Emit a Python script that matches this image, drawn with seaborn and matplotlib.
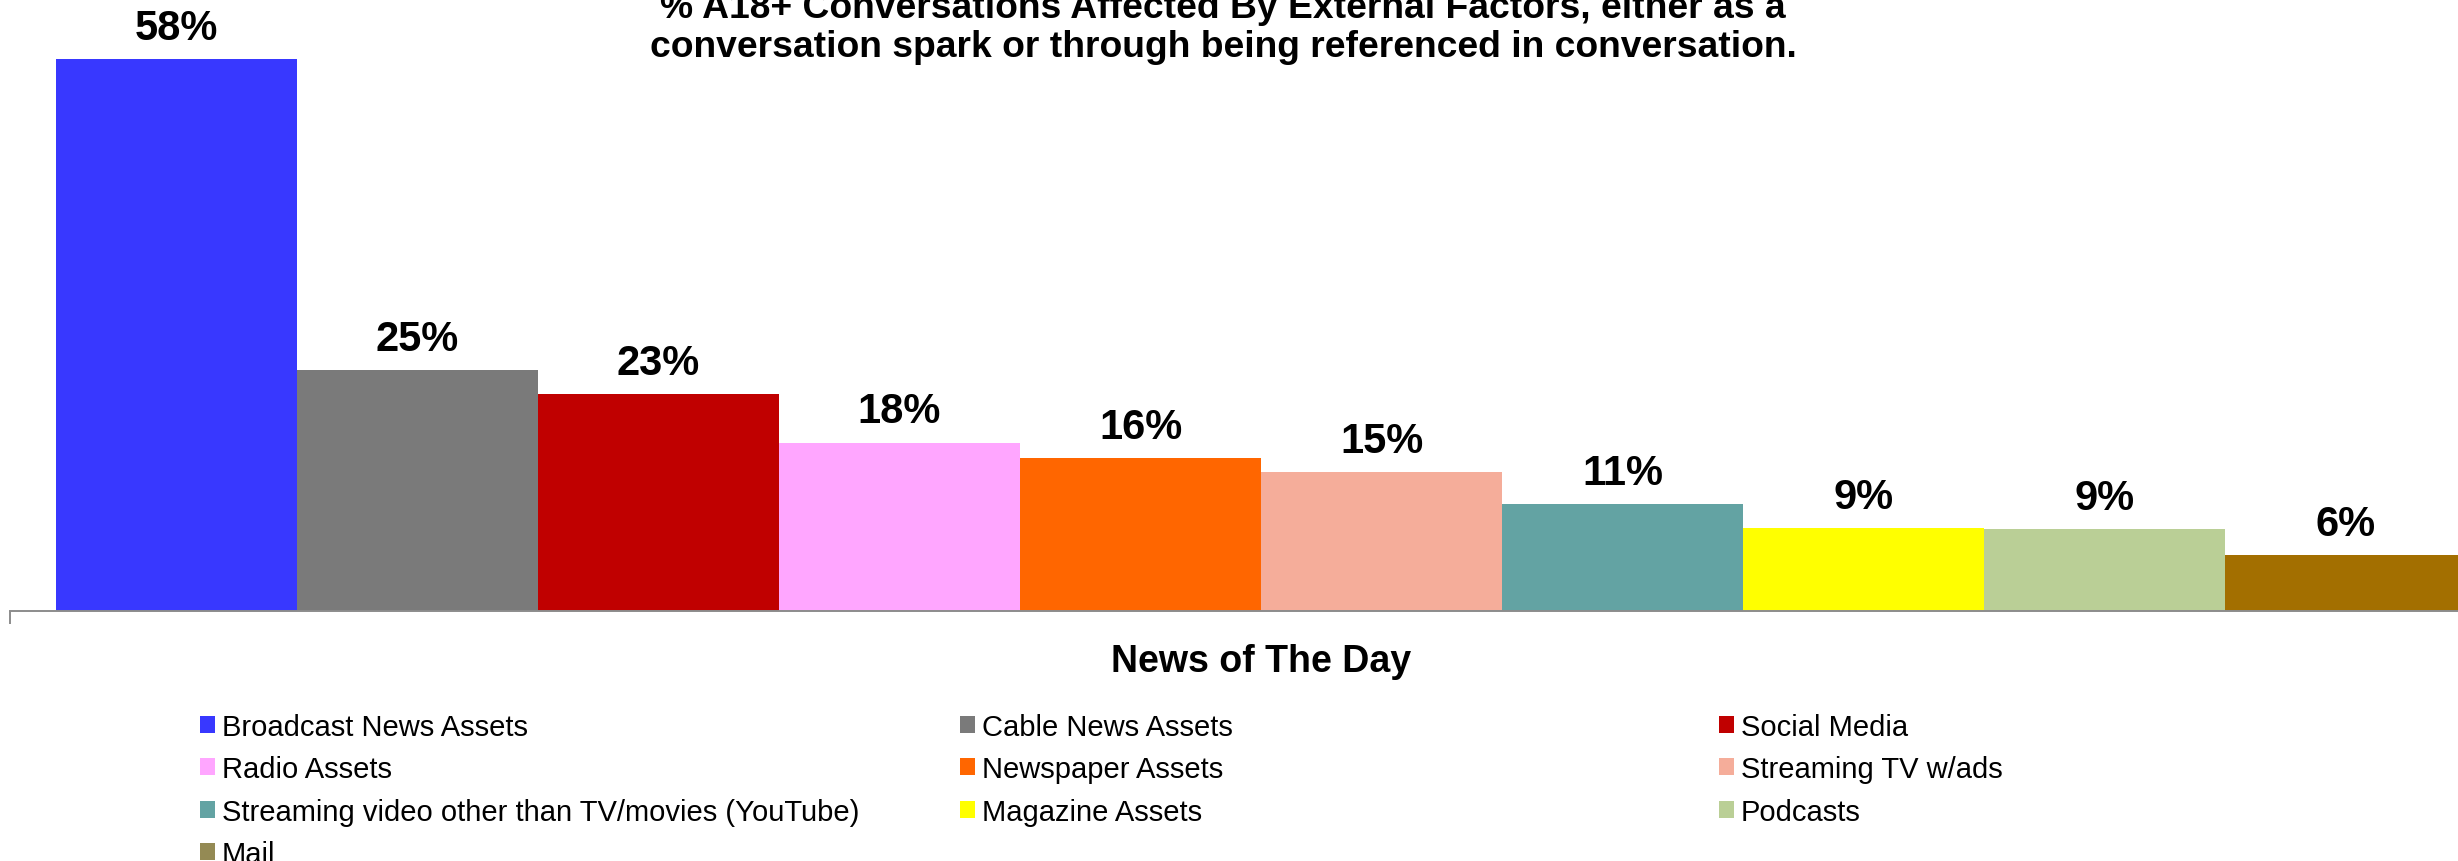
import matplotlib
matplotlib.use("Agg")
import matplotlib.pyplot as plt
import seaborn as sns
import pandas as pd

# ---- data ----
category = ["News of The Day"]
series = ["Broadcast News Assets", "Cable News Assets", "Social Media", "Radio Assets",
          "Newspaper Assets", "Streaming TV w/ads",
          "Streaming video other than TV/movies (YouTube)", "Magazine Assets",
          "Podcasts", "Mail"]
values = [58.0, 25.3, 22.8, 17.7, 16.1, 14.6, 11.2, 8.7, 8.6, 5.9]
colors = ["#3838FF", "#7A7A7A", "#C00000", "#FFA6FF", "#FF6600", "#F5AD9A",
          "#63A3A3", "#FFFF00", "#BACF96", "#A36F00"]
legend_colors = ["#3838FF", "#7A7A7A", "#C00000", "#FFA6FF", "#FF6600", "#F5AD9A",
                 "#63A3A3", "#FFFF00", "#BACF96", "#948A54"]
title = ("% A18+ Conversations Affected By External Factors, either as a\n"
         "conversation spark or through being referenced in conversation.")

df = pd.DataFrame({"cat": category * len(series), "series": series, "value": values})

sns.set_style("white")
plt.rcParams["font.family"] = ["Liberation Sans", "DejaVu Sans"]
plt.rcParams["text.color"] = "black"
plt.rcParams["axes.labelcolor"] = "black"
plt.rcParams["xtick.color"] = "black"

W, H = 2458, 862
fig = plt.figure(figsize=(W / 100, H / 100), dpi=100)
# axes extends past the right edge (chart is clipped in the reference)
ax = fig.add_axes([10 / W, 250 / H, 2502 / W, 571 / H])

sns.barplot(data=df, x="cat", y="value", hue="series", hue_order=series,
            palette=colors, saturation=1, width=2410 / 2502, dodge=True,
            linewidth=0, ax=ax, legend=True)

ax.set_xlim(-0.5, 0.5)
ax.set_ylim(0, 60)

for cont in ax.containers:
    ax.bar_label(cont, fmt=lambda v: f"{v:.0f}%", padding=8,
                 fontsize=30, fontweight="bold", color="black")

# axes styling
for s in ["left", "top", "right"]:
    ax.spines[s].set_visible(False)
ax.spines["bottom"].set_color("#8C8C8C")
ax.spines["bottom"].set_linewidth(1.4)
ax.set_yticks([])
ax.set_xlabel("")
ax.set_ylabel("")
ax.set_xticks([0])
ax.set_xticklabels(category, fontsize=27, fontweight="bold", color="black")
ax.set_xticks([-0.5, 0.5], minor=True)
ax.tick_params(axis="x", which="both", bottom=True)
ax.tick_params(axis="x", which="major", length=0, pad=23)
ax.tick_params(axis="x", which="minor", length=9, width=1.4, color="#8C8C8C",
               direction="out")

# legend: three equal-width columns, filled row by row
handles, labels = ax.get_legend_handles_labels()
ax.legend_.remove()
for h, c in zip(handles, legend_colors):
    try:
        for p in h.patches:
            p.set_facecolor(c)
    except AttributeError:
        h.set_facecolor(c)

col_x = [200, 960, 1719]
for ci in range(3):
    idx = list(range(ci, len(series), 3))
    fig.legend([handles[i] for i in idx], [labels[i] for i in idx],
               loc="upper left", bbox_to_anchor=(col_x[ci] / W, 1 - 714 / H),
               bbox_transform=fig.transFigure, frameon=False, ncol=1,
               fontsize=21, handlelength=0.52, handleheight=0.52,
               handletextpad=0.22, labelspacing=0.49, borderpad=0,
               borderaxespad=0, labelcolor="black")

fig.text(1223 / W, 1 - 57 / H, title, ha="center", va="baseline",
         fontsize=26.8, fontweight="bold", linespacing=1.154, color="black")

fig.savefig("out.png", dpi=100, facecolor="white")
